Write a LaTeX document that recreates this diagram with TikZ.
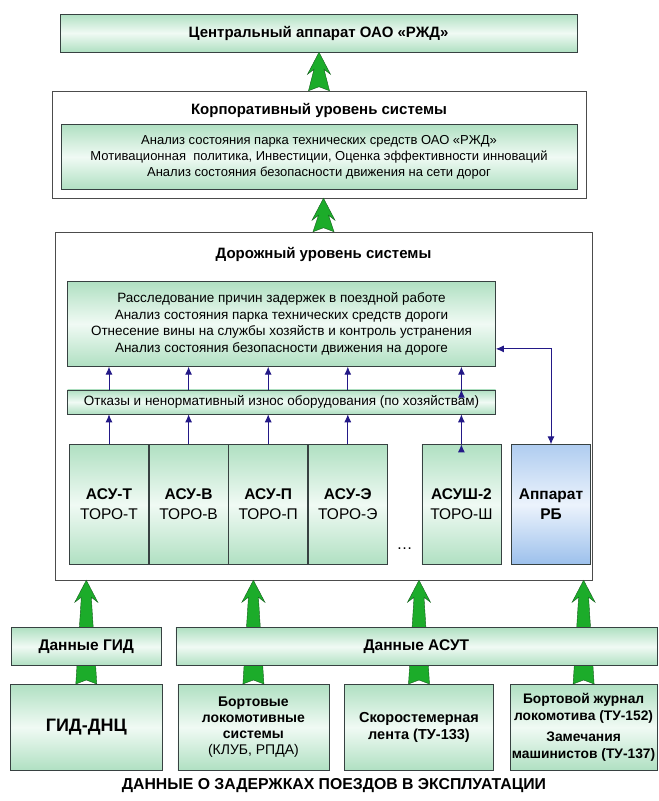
\documentclass[tikz,border=0pt]{standalone}
\usepackage{fontspec}
\setmainfont{Liberation Sans}
\usepackage{xcolor}
\usepackage{tikz}
\usetikzlibrary{positioning,calc,arrows.meta}
\definecolor{mint}{RGB}{176,224,194}
\definecolor{pale}{RGB}{240,250,244}
\definecolor{skyblue}{RGB}{156,192,236}
\definecolor{paleblue}{RGB}{236,243,252}
\definecolor{boxline}{RGB}{55,65,65}
\definecolor{navy}{RGB}{35,25,135}
\definecolor{arrowgreen}{RGB}{28,172,42}
\definecolor{arrowline}{RGB}{22,95,30}
\newcommand{\fsz}[2]{\fontsize{#1}{#2}\selectfont}
\tikzstyle{greenbox}=[draw=boxline,
line width=0.6pt,
top color=mint,
bottom color=mint,
middle color=pale,
align=center,
inner sep=0pt,
]
\tikzstyle{bluebox}=[draw=boxline,
line width=0.6pt,
top color=skyblue!80,
bottom color=skyblue,
middle color=paleblue,
align=center,
inner sep=0pt,
]
\tikzstyle{outerbox}=[draw=gray!60!black,
line width=0.5pt,
fill=white,
]
\tikzstyle{thinarrow}=[navy,
line width=1pt,
>={Latex[length=8pt,width=7pt]},
]
\tikzstyle{bigarrow}=[fill=arrowgreen,
draw=arrowline,
line width=0.4pt,
]
\tikzstyle{asubox}=[greenbox,
minimum width=79pt,
minimum height=120pt,
font=\fsz{15.5}{20},
]
\newcommand{\bigarrow}[2]{%
  \filldraw[bigarrow] let \p1=(#1.north), \p2=(#2.south) in
    (\x1-10.5pt,\y1) -- (\x1,\y1+4pt) -- (\x1+10.5pt,\y1) -- (\x1+5pt,\y2-17pt)
    -- (\x1+11.5pt,\y2-22pt) -- (\x1,\y2) -- (\x1-11.5pt,\y2-22pt)
    -- (\x1-5pt,\y2-17pt) -- cycle;}

\begin{document}
\begin{tikzpicture}[x=1pt,y=-1pt]
        \useasboundingbox (0,0) rectangle (659,801);
        % top levels
        \node[greenbox, minimum width=517pt, minimum height=38pt, font=\bfseries\fsz{15}{18}] (central) at (318.5,33) {Центральный аппарат ОАО «РЖД»};
        \node[outerbox, minimum width=534pt, minimum height=107pt] (corp) at (319,144.5) {};
        \node[font=\bfseries\fsz{15}{18}, below=9pt of corp.north] (corptitle) {Корпоративный уровень системы};
        \node[greenbox, minimum width=516pt, minimum height=65pt, font=\fsz{13}{16}, below=3pt of corptitle] (corpinner) {Анализ состояния парка технических средств ОАО «РЖД»\\
        Мотивационная~ политика, Инвестиции, Оценка эффективности инноваций\\
        Анализ состояния безопасности движения на сети дорог};

        % road level
        \node[outerbox, minimum width=537pt, minimum height=348pt] (road) at (323.5,406) {};
        \node[font=\bfseries\fsz{15}{18}, below=12pt of road.north] (roadtitle) {Дорожный уровень системы};
        \node[greenbox, minimum width=428pt, minimum height=85pt, font=\fsz{13.5}{16.5}, below=16pt of roadtitle, xshift=-42pt] (roadinner) {Расследование причин задержек в поездной работе\\
        Анализ состояния парка технических средств дороги\\
        Отнесение вины на службы хозяйств и контроль устранения\\
        Анализ состояния безопасности движения на дороге};
        \node[greenbox, minimum width=428pt, minimum height=24pt, font=\fsz{13.5}{16}, below=23pt of roadinner] (fail) {Отказы и ненормативный износ оборудования (по хозяйствам)};
        \node[asubox, below right=30pt and 2pt of fail.south west] (asut) {\textbf{АСУ-Т}\\ТОРО-Т};
        \node[asubox, right=0pt of asut] (asuv) {\textbf{АСУ-В}\\ТОРО-В};
        \node[asubox, right=0pt of asuv] (asup) {\textbf{АСУ-П}\\ТОРО-П};
        \node[asubox, right=0pt of asup] (asue) {\textbf{АСУ-Э}\\ТОРО-Э};
        \node[asubox, right=34pt of asue] (asush) {\textbf{АСУШ-2}\\ТОРО-Ш};
        \node[bluebox, minimum width=79pt, minimum height=120pt, font=\bfseries\fsz{15.5}{20}, right=10pt of asush] (rb) {Аппарат\\РБ};
        \coordinate (gap) at ($(asue.south east)!0.5!(asush.south west)$);
        \node[font=\fsz{16}{16}, above=12pt of gap] (dots) {\dots};

        \draw[thinarrow, ->] (asut.north) edge (asut.north |- fail.south)
        (asuv.north) edge (asuv.north |- fail.south)
        (asup.north) edge (asup.north |- fail.south)
        (asue.north) edge (asue.north |- fail.south)
        (asush.north) edge (asush.north |- fail.south);
        \draw[thinarrow, ->] (asut.north |- fail.north) edge (asut.north |- roadinner.south)
        (asuv.north |- fail.north) edge (asuv.north |- roadinner.south)
        (asup.north |- fail.north) edge (asup.north |- roadinner.south)
        (asue.north |- fail.north) edge (asue.north |- roadinner.south)
        (asush.north |- fail.north) edge (asush.north |- roadinner.south);
        \draw[thinarrow, <->] ([yshift=-25pt]roadinner.east) -| (rb.north);

        % sources
        \node[greenbox, minimum width=152pt, minimum height=86pt, font=\bfseries\fsz{18}{20}, anchor=north west] (gid) at (10,684) {ГИД-ДНЦ};
        \node[greenbox, minimum width=151pt, minimum height=86pt, font=\fsz{14}{16}, right=15pt of gid] (bort) {\textbf{Бортовые}\\\textbf{локомотивные}\\\textbf{системы}\\(КЛУБ, РПДА)};
        \node[greenbox, minimum width=149pt, minimum height=86pt, font=\bfseries\fsz{14.5}{17}, right=15pt of bort] (skor) {Скоростемерная\\лента (ТУ-133)};
        \node[greenbox, minimum width=147pt, minimum height=86pt, font=\bfseries\fsz{13.8}{17}, right=16pt of skor] (journ) {Бортовой журнал\\локомотива (ТУ-152)\\[4pt]Замечания\\машинистов (ТУ-137)};

        \bigarrow{corp}{central}
        \bigarrow{road}{corp}
        \bigarrow{gid}{road}
        \bigarrow{bort}{road}
        \bigarrow{skor}{road}
        \bigarrow{journ}{road}

        \node[greenbox, minimum width=150pt, minimum height=38pt, font=\bfseries\fsz{15.5}{18}, above=18pt of gid] (gidata) {Данные ГИД};
        \node[greenbox, minimum width=481pt, minimum height=38pt, font=\bfseries\fsz{15.5}{18}, anchor=south west] (asutdata) at ([xshift=-2pt,yshift=18pt]bort.north west) {Данные АСУТ};
        \node[font=\bfseries\fsz{15.8}{18}] (caption) at (334,786) {ДАННЫЕ О ЗАДЕРЖКАХ ПОЕЗДОВ В ЭКСПЛУАТАЦИИ};
\end{tikzpicture}
\end{document}
